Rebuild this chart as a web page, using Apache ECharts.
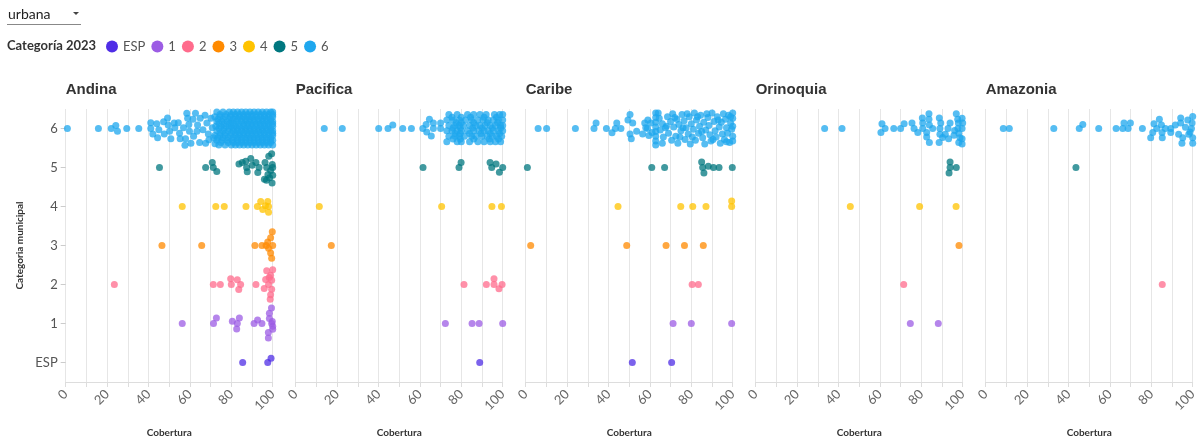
<!DOCTYPE html>
<html>
<head>
<meta charset="utf-8">
<script src="https://cdn.jsdelivr.net/npm/echarts@6/dist/echarts.min.js"></script>
<style>
html,body{margin:0;padding:0;background:#fff}
#chart{width:1204px;height:439px}
</style>
</head>
<body>
<div id="chart"></div>
<script>
let regiones=['Andina','Pacifica','Caribe','Orinoquia','Amazonia']
let categorias=['ESP','1','2','3','4','5','6']
let colores=['#4f2de6','#9c5ce4','#ff6b8c','#ff8a00','#ffc300','#00777f','#1ea7ee']
let etiquetasX=[0,20,40,60,80,100]

// puntos [cobertura, desplazamiento] por categoria ESP,1..6
let andina=[
  [[85.5,0],[97.6,0],[99.2,.11]],
  [[56.3,0],[71.4,0],[72.8,.14],[80.5,.06],[82.9,0],[83.9,.14],[82.6,-.14],[91,0],[92.7,.09],[94.8,0],[98.4,.26],[99.4,.4],[98.4,.13],[99.5,0],[100,-.07],[100,-.15],[97.9,-.23],[97.9,-.37],[99.8,.05]],
  [[23.5,0],[71.3,0],[74.7,0],[79.7,.15],[80,0],[82.9,.12],[84.5,0],[83.6,-.13],[91.9,0],[96.6,.13],[97.1,.35],[98,0],[95.9,-.1],[99,.24],[99.5,.11],[100,.38],[99.5,-.12],[99,-.26],[98.8,-.38],[98.3,.18]],
  [[46.5,0],[65.7,0],[91.4,0],[94.8,0],[97.6,.09],[98,-.07],[99,.2],[99.8,.35],[100,0],[99,-.19],[99.5,-.33],[96.8,0]],
  [[56.3,0],[72.5,0],[76.6,0],[87.1,0],[92.6,0],[94.2,.13],[95.2,-.08],[97.6,.13],[98,0],[98,-.15],[96.5,.02]],
  [[45.3,0],[67.6,0],[70.8,.13],[71.3,0],[73,-.1],[83.7,.09],[85.3,.13],[87,.16],[87.4,0],[87.7,-.11],[89.4,.23],[90.1,.06],[91.9,.13],[92.8,-.13],[93.4,0],[96.3,.13],[97.1,0],[97.7,-.18],[98.1,.29],[99.5,.35],[99.8,.08],[98.5,-.26],[97,-.33],[99.7,-.4],[100,-.2],[100,0],[99,-.08],[96,-.3]],
  [[0.8,0],[15.8,0],[22,0],[24.2,.08],[25,-.07],[29.5,0],[35.3,0],
   [41.1,.15],[41.1,0],[42.1,-.14],[44,.12],[44.4,-.24],[45,-.03],[47.3,.17],[47.6,-.14],[49.2,.27],[49.5,.09],[50.2,-.07],[50.8,-.26],
   [52.4,.14],[52.7,.02],[54.4,.15],[55,-.12],[55.3,-.26],[56.9,.02],[57.6,-.43],[57.9,-.26],[58.5,.39],[58.9,.26],[59.5,.1],[59.8,-.07],
   [60.5,-.38],[61.5,.24],[61.8,-.2],[62.7,.39],[63.4,-.07],[63.7,.09],[64.7,-.36],[65,.26],[66.3,-.03],[67.3,.34],[67.6,-.38],[68.2,.14],
   [68.9,-.14],[69.2,-.29],[70.2,.26],[70.8,.02],[71.5,-.24],[72.1,-.39],
   [73,.42],[76,.42],[79,.42],[81,.42],[83,.42],[85,.42],[87,.42],[89,.42],[91,.42],[93,.42],[95,.42],[97,.42],[99,.42],[100,.42],
   [74.5,.36],[77.5,.36],[80,.36],[82,.36],[84,.36],[86,.36],[88,.36],[90,.36],[92,.36],[94,.36],[96,.36],[98,.36],[100,.36],
   [72,.3],[74.5,.3],[77,.3],[79.5,.3],[82,.3],[84,.3],[86,.3],[88,.3],[90,.3],[92,.3],[94,.3],[96,.3],[98,.3],[100,.3],
   [73.5,.24],[76,.24],[79,.24],[81,.24],[83,.24],[85,.24],[87,.24],[89,.24],[91,.24],[93,.24],[95,.24],[97,.24],[99,.24],
   [73,.18],[75.5,.18],[78,.18],[80,.18],[82.5,.18],[85,.18],[87,.18],[89,.18],[91,.18],[93,.18],[95,.18],[97,.18],[99,.18],[100,.18],
   [74,.12],[76.5,.12],[79,.12],[81,.12],[83.5,.12],[86,.12],[88,.12],[90,.12],[92,.12],[94,.12],[96,.12],[98,.12],[100,.12],
   [72.5,.06],[75,.06],[77.5,.06],[80,.06],[82,.06],[84,.06],[86,.06],[88,.06],[90,.06],[92,.06],[94,.06],[96,.06],[98,.06],[100,.06],
   [74,0],[76.5,0],[79,0],[81,0],[83,0],[85,0],[87,0],[89,0],[91,0],[93,0],[95,0],[97,0],[99,0],
   [73,-.06],[76,-.06],[78.5,-.06],[81,-.06],[83,-.06],[85,-.06],[87,-.06],[89,-.06],[91,-.06],[93,-.06],[95,-.06],[97,-.06],[99,-.06],[100,-.06],
   [74.5,-.12],[77,-.12],[80,-.12],[82,-.12],[84,-.12],[86,-.12],[88,-.12],[90,-.12],[92,-.12],[94,-.12],[96,-.12],[98,-.12],[100,-.12],
   [72,-.18],[74.5,-.18],[77,-.18],[79.5,-.18],[82,-.18],[84,-.18],[86,-.18],[88,-.18],[90,-.18],[92,-.18],[94,-.18],[96,-.18],[98,-.18],[100,-.18],
   [73.5,-.24],[76,-.24],[78.5,-.24],[81,-.24],[83,-.24],[85,-.24],[87,-.24],[89,-.24],[91,-.24],[93,-.24],[95,-.24],[97,-.24],[99,-.24],
   [73,-.3],[75.5,-.3],[78,-.3],[80.5,-.3],[83,-.3],[85,-.3],[87,-.3],[89,-.3],[91,-.3],[93,-.3],[95,-.3],[97,-.3],[99,-.3],[100,-.3],
   [75,-.36],[78.5,-.36],[81,-.36],[83,-.36],[85,-.36],[87,-.36],[89,-.36],[91,-.36],[93,-.36],[95,-.36],[97,-.36],[99,-.36],
   [74,-.42],[77,-.42],[80,-.42],[82,-.42],[84,-.42],[86,-.42],[88,-.42],[90,-.42],[92,-.42],[94,-.42],[96,-.42],[98,-.42],[100,-.42]]
]
let pacifica=[
  [[88.9,0]],
  [[72.3,0],[85.2,0],[88.6,0],[100,0]],
  [[81.3,0],[92.1,0],[95.8,.15],[95.8,0],[98.2,-.11],[99.7,0]],
  [[17.2,0]],
  [[11.4,0],[70.5,0],[94.8,0],[99.4,0]],
  [[61.5,0],[78.9,0],[79.9,.13],[93.9,.13],[94.7,0],[96.8,.09],[98.4,-.12],[100,0]],
  [[13.8,0],[22.5,0],[40.1,0],[44.6,0],[46.9,.09],[51.7,0],[55.9,0],[61.4,0],[63,.1],[63.3,-.09],[64.6,.24],[65.5,-.19],[66.5,0],[66.5,.14],[70,.14],[70,0],
   [74,.36],[78,.36],[83,.36],[86,.36],[89,.36],[92,.36],[96,.36],[98.5,.36],[100,.36],
   [75.5,.29],[80,.29],[84.5,.29],[91,.29],[97,.29],
   [73,.22],[76,.22],[79,.22],[82,.22],[85,.22],[88,.22],[90.5,.22],[93,.22],[95.5,.22],[98,.22],[100,.22],
   [77.5,.15],[80,.15],[86,.15],[92.5,.15],[97.5,.15],
   [74,.08],[77,.08],[79,.08],[81,.08],[84,.08],[87,.08],[89,.08],[91.5,.08],[94,.08],[96.5,.08],[99,.08],[100,.08],
   [76,.01],[79.5,.01],[85.5,.01],[90,.01],[95,.01],[99,.01],
   [73,-.06],[75.5,-.06],[78,-.06],[80,-.06],[83,-.06],[86,-.06],[88.5,-.06],[91,-.06],[93,-.06],[95.5,-.06],[98,-.06],[100,-.06],
   [77,-.13],[79.5,-.13],[84,-.13],[89.5,-.13],[94,-.13],[98.5,-.13],
   [74,-.2],[77,-.2],[79,-.2],[81.5,-.2],[85,-.2],[87,-.2],[90,-.2],[92.5,-.2],[95,-.2],[97,-.2],[99.5,-.2],
   [76,-.27],[79.5,-.27],[86,-.27],[93.5,-.27],[98,-.27],
   [73,-.34],[78,-.34],[80,-.34],[84,-.34],[88,-.34],[91,-.34],[94,-.34],[96.5,-.34],[99,-.34]]
]
let caribe=[
  [[51.5,0],[70.5,0]],
  [[71.2,0],[80,0],[99.5,0]],
  [[80.4,0],[83.4,0]],
  [[2.4,0],[48.8,0],[67.8,0],[76.7,0],[85.8,0]],
  [[44.6,0],[74.9,0],[80.7,0],[87.1,0],[99.5,.14],[99.5,0]],
  [[0.8,0],[60.9,0],[67.1,0],[85,.14],[85.5,0],[86.1,-.14],[88.2,.03],[90.7,0],[93.4,0],[99.8,0]],
  [[6,0],[10.1,0],[24,0],[33,0],[34,.14],[39,0],[41.7,-.11],[44,.14],[43.3,0],[46,0],[49.4,.22],[50.4,.36],[51.7,.14],[50.4,-.14],[51,-.26],
   [53.6,-.07],[56.5,-.14],[57.5,.14],[58.8,0],[58,.02],[59,.22],[59.5,-.18],
   [62.8,.4],[62.8,.28],[62.8,.16],[62.8,.04],[62.8,-.08],[62.8,-.2],[62.8,-.32],[62.8,-.42],
   [60.5,.14],[61,-.1],[64.5,.26],[65,-.04],[66,.12],[66.5,-.22],[67.5,.02],[68.5,.3],[69,-.12],[70,.18],[70.5,-.3],[71,.38],[71.5,.04],
   [72.5,-.2],[73,.24],[73.5,-.38],[74,.1],[75,-.06],[75.5,.36],[76.5,.2],[77,-.28],[77.5,.02],[78.5,-.14],[79,.3],[79.5,-.4],[80,.12],
   [81,-.02],[81.5,.4],[82,-.3],[82.5,.22],[83.5,-.12],[84,.06],[84.5,.34],[85.5,-.24],[86,.16],[86.5,-.4],[87,-.04],[88,.28],[88.5,.08],
   [89,-.16],[89.5,-.32],[90,.4],[91,.18],[91.5,-.06],[92,-.22],[92.5,.3],[93.5,.04],[94,-.38],[94.5,.16],[95,-.14],[95.5,.38],[96,-.28],
   [96.5,.24],[97,.02],[97.5,-.12],[98,.34],[98.5,-.36],[99,.14],[99.5,-.02],[100,.4],[100,.26],[100,-.2],[100,-.32],[100,.06],
   [64,.4],[66,-.38],[68,.06],[72,.28],[74.5,-.22],[76,.02],[78,.38],[80.5,-.22],[83,.3],[85,-.08],[87.5,.38],[90.5,-.28],[93,.22],[97,-.34],[99,.3]]
]
let orinoquia=[
  [],
  [[74.7,0],[88.2,0]],
  [[71.5,0]],
  [[98.2,0]],
  [[45.7,0],[79.2,0],[96.8,0]],
  [[93.9,.14],[93.9,0],[96.9,0],[93.4,-.14]],
  [[33.3,0],[41.7,0],[60.5,-.1],[61,.12],[62.5,0],[66.7,0],[70,0],[71.7,.12],[75.5,.14],[76.5,0],[78.3,-.1],[80.5,.27],[80.7,.14],[80.7,0],
   [82.6,-.1],[82.6,-.22],[83.7,.38],[83.7,.24],[83.9,-.36],[83.9,.09],[85.5,0],[88.7,.27],[89.4,.14],[89,0],[89,-.15],[88.6,-.36],
   [90.3,-.23],[91.6,-.15],[92.9,0],[93.9,.14],[95.8,-.17],[93.2,-.26],[96.9,.38],[97.6,.24],[97.9,.14],[97.7,0],[98.1,-.12],[98.7,-.24],
   [98.1,-.36],[99.7,.26],[100,.14],[99.7,0],[99.7,-.26],[99.7,-.4],[96.1,-.05]]
]
let amazonia=[
  [],
  [],
  [[85.3,0]],
  [],
  [],
  [[43.6,0]],
  [[8.5,0],[11.4,0],[32.9,0],[45.2,0],[46.9,.1],[54.6,0],[63,0],[66.2,0],[66.8,.14],[68.8,0],[69.9,.14],[75.7,0],[79.7,-.24],[80.7,-.1],
   [81.3,.12],[82.6,0],[83.9,.24],[84.9,.09],[85.2,-.1],[85.3,-.24],[86.8,0],[89.4,-.1],[89.4,0],[91.6,.09],[93.2,-.15],[94.2,.27],
   [94.2,.14],[95.2,-.24],[94.8,-.38],[96.5,.03],[97.6,.22],[98.7,-.09],[99.4,0],[99.7,.14],[100,.31],[100,-.24],[100,-.38],[98.1,-.15]]
]
let puntos=[andina,pacifica,caribe,orinoquia,amazonia]

let myChart=echarts.init(document.getElementById('chart'))
let grids=[],xAxes=[],yAxes=[],series=[],titles=[]
regiones.forEach(function(region,i){
    let left=65.7+230*i
    grids.push({left:left,top:109,width:207,height:273,outerBoundsMode:'none'})
    titles.push({text:region,left:left,top:82,padding:0,
        textStyle:{fontSize:15,fontWeight:'bold',color:'#333',fontFamily:'Liberation Sans'}})
    xAxes.push({
        type:'value',gridIndex:i,min:0,max:100,interval:10,
        name:'Cobertura',nameLocation:'middle',nameGap:46,
        nameTextStyle:{fontSize:10,fontWeight:'bold',color:'#333',fontFamily:'Lato'},
        axisLine:{onZero:false,lineStyle:{color:'#ddd'}},
        axisTick:{show:true,length:5,lineStyle:{color:'#ddd'}},
        splitLine:{show:true,lineStyle:{color:'#e6e6e6'}},
        axisLabel:{rotate:45,fontSize:13,color:'#666',margin:10,fontFamily:'Lato',
            formatter:function(v){return etiquetasX.indexOf(v)>=0?String(v):''}}
    })
    yAxes.push({
        type:'category',gridIndex:i,data:categorias,show:i==0,
        name:'Categoria municipal',nameLocation:'middle',nameGap:41,
        nameTextStyle:{fontSize:10,fontWeight:'bold',color:'#333',fontFamily:'Lato'},
        axisLine:{show:false},
        axisTick:{show:true,alignWithLabel:true,length:5,lineStyle:{color:'#ccc'}},
        axisLabel:{fontSize:13,color:'#555',margin:8,fontFamily:'Lato'},
        splitLine:{show:false}
    })
    yAxes.push({type:'value',gridIndex:i,min:-0.5,max:6.5,show:false,splitLine:{show:false}})
    categorias.forEach(function(cat,c){
        series.push({
            type:'scatter',name:cat,xAxisIndex:i,yAxisIndex:2*i+1,
            symbolSize:7,
            itemStyle:{color:colores[c],opacity:0.75},
            data:puntos[i][c].map(function(p){return [p[0],c+p[1]]})
        })
    })
})

let option={
    animation:false,
    color:colores,
    title:titles,
    legend:{
        data:categorias,left:101,top:35,icon:'circle',itemWidth:12,itemHeight:12,itemGap:6,
        itemStyle:{opacity:1},
        textStyle:{fontSize:13,color:'#555',fontFamily:'Lato'}
    },
    grid:grids,
    xAxis:xAxes,
    yAxis:yAxes,
    series:series,
    graphic:[
        {type:'text',left:8,top:7,style:{text:'urbana',fontSize:14,fill:'#222',fontFamily:'Lato'}},
        {type:'polygon',shape:{points:[[73,12],[79,12],[76,15]]},style:{fill:'#444'}},
        {type:'line',shape:{x1:7,y1:24.5,x2:81,y2:24.5},style:{stroke:'#888',lineWidth:1}},
        {type:'text',left:7,top:39,style:{text:'Categoría 2023',fontSize:13,fontWeight:'bold',fill:'#333',fontFamily:'Lato'}}
    ]
}
myChart.setOption(option)
</script>
</body>
</html>
